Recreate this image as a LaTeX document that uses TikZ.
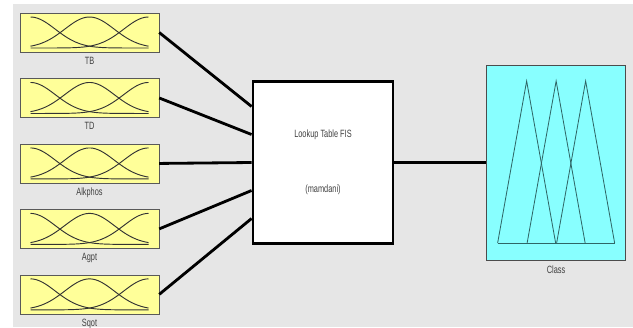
\documentclass[tikz,border=0pt]{standalone}
\usepackage{fontspec}
\newfontfamily\narrowsf[FakeStretch=0.7]{Liberation Sans}
\usetikzlibrary{positioning}
\definecolor{panelgray}{HTML}{E6E6E6}
\definecolor{mfyellow}{HTML}{FFFF99}
\definecolor{outcyan}{HTML}{88FFFF}
\definecolor{tricol}{HTML}{2F6666}

\begin{document}
\begin{tikzpicture}[
    x=0.3mm, y=-0.3mm,
    font=\narrowsf\fontsize{9}{11}\selectfont,
    inbox/.style={draw=black!65,fill=mfyellow,minimum width=41.7mm,minimum height=11.7mm,inner sep=0pt},
    fisbox/.style={draw,line width=2.4pt,fill=white,minimum width=42mm,minimum height=48.6mm,
                   align=center,text=black!75},
    outbox/.style={draw=black!70,fill=outcyan,minimum width=41.7mm,minimum height=58.5mm,inner sep=0pt},
    lbl/.style={inner sep=0pt,text=black!75},
    conn/.style={line width=2.4pt},
    mf/.style={black!80,line width=0.8pt},
    tri/.style={tricol,line width=0.7pt}
  ]
  \useasboundingbox (0,0) rectangle (633,327);
  \fill[panelgray] (13,4) rectangle (633,327);

  \node[inbox] (tb) at (89.5,32.5) {};
  \node[inbox,below=7.8mm of tb]   (td)   {};
  \node[inbox,below=7.8mm of td]   (alk)  {};
  \node[inbox,below=7.8mm of alk]  (agpt) {};
  \node[inbox,below=7.8mm of agpt] (sqot) {};

  \node[lbl,below=1.3mm of tb]   (tblbl)   {TB};
  \node[lbl,below=1.3mm of td]   (tdlbl)   {TD};
  \node[lbl,below=1.3mm of alk]  (alklbl)  {Alkphos};
  \node[lbl,below=1.3mm of agpt] (agptlbl) {Agpt};
  \node[lbl,below=1.3mm of sqot] (sqotlbl) {Sqot};

  % gaussian membership curves in each input box
  \foreach \b in {tb,td,alk,agpt,sqot}
    \foreach \c in {-59,0,59}
      \draw[mf,shift={(\b.center)}] plot[domain=-59:59,samples=50,smooth]
        (\x,{15.5-31*exp(-((\x-\c)^2)/1230)});

  \node[fisbox] (fis) at (323,162.5) {Lookup Table FIS\\[36pt](mamdani)};
  \node[outbox,right=27.6mm of fis] (class) {};
  \node[lbl,below=1.5mm of class] (classlbl) {Class};

  % triangular output terms
  \foreach \p in {-29.5,0,29.5}
    \draw[tri,shift={(class.center)}] (\p-29,80.5) -- (\p,-81.5) -- (\p+29,80.5);
  \draw[tri,shift={(class.center)}] (-58.5,80.5) -- (58.5,80.5);

  \draw[conn] (tb.east)   -- ([yshift=16.8mm]fis.west);
  \draw[conn] (td.east)   -- ([yshift=8.4mm]fis.west);
  \draw[conn] (alk.east)  -- (fis.west);
  \draw[conn] (agpt.east) -- ([yshift=-8.4mm]fis.west);
  \draw[conn] (sqot.east) -- ([yshift=-16.8mm]fis.west);
  \draw[conn] (fis.east)  -- (class.west);
\end{tikzpicture}
\end{document}
